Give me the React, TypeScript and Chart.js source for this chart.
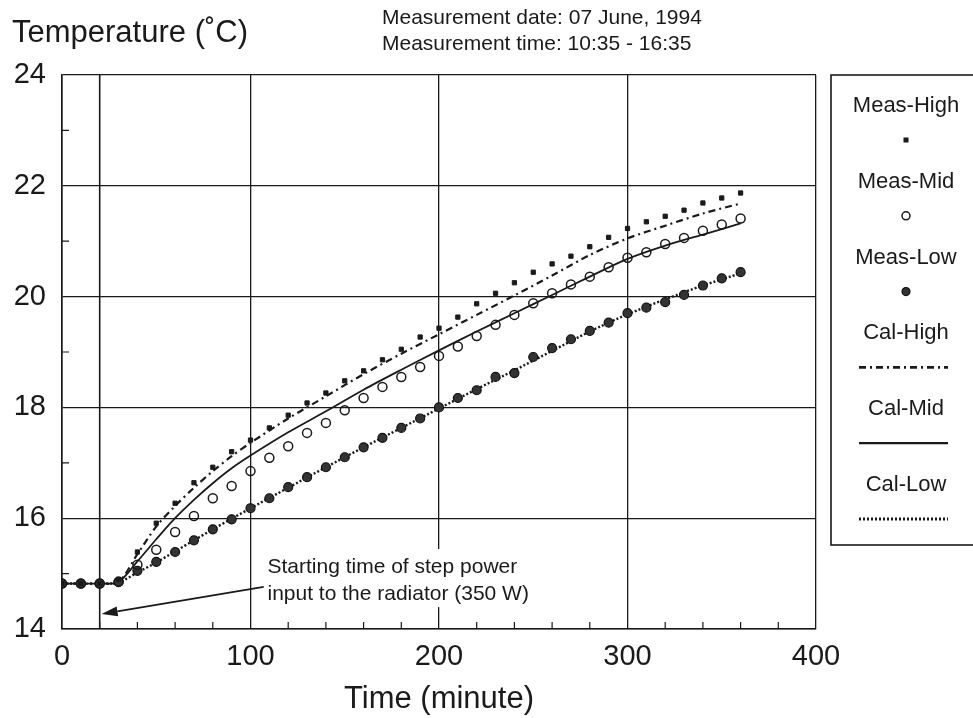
import { useEffect, useRef } from "react";
import { Chart, registerables } from "chart.js";

Chart.register(...registerables);

// ---------- data ----------
const measTimes = [0, 10, 20, 30, 40, 50, 60, 70, 80, 90, 100, 110, 120, 130, 140, 150, 160, 170, 180, 190, 200, 210, 220, 230, 240, 250, 260, 270, 280, 290, 300, 310, 320, 330, 340, 350, 360];
const measHigh = [14.82, 14.82, 14.82, 14.9, 15.39, 15.91, 16.27, 16.64, 16.92, 17.2, 17.41, 17.63, 17.86, 18.08, 18.26, 18.48, 18.66, 18.86, 19.05, 19.27, 19.43, 19.63, 19.87, 20.06, 20.25, 20.44, 20.59, 20.73, 20.9, 21.07, 21.23, 21.35, 21.45, 21.56, 21.69, 21.78, 21.87];
const measMid = [14.82, 14.82, 14.82, 14.85, 15.16, 15.43, 15.75, 16.04, 16.36, 16.58, 16.85, 17.09, 17.3, 17.54, 17.72, 17.95, 18.17, 18.37, 18.55, 18.73, 18.93, 19.1, 19.29, 19.49, 19.67, 19.88, 20.06, 20.22, 20.36, 20.53, 20.7, 20.8, 20.95, 21.06, 21.19, 21.3, 21.41];
const measLow = [14.82, 14.82, 14.82, 14.85, 15.05, 15.21, 15.39, 15.6, 15.8, 15.98, 16.18, 16.36, 16.56, 16.74, 16.92, 17.1, 17.28, 17.45, 17.63, 17.8, 18.0, 18.17, 18.31, 18.55, 18.62, 18.91, 19.07, 19.23, 19.38, 19.53, 19.7, 19.8, 19.9, 20.03, 20.2, 20.33, 20.44];

const calTimes = [0, 10, 20, 30, 40, 50, 60, 70, 80, 90, 100, 120, 140, 160, 180, 200, 220, 240, 260, 280, 300, 320, 340, 360];
const calHigh = [14.82, 14.82, 14.82, 14.85, 15.35, 15.85, 16.22, 16.55, 16.85, 17.12, 17.36, 17.8, 18.2, 18.6, 18.97, 19.32, 19.67, 20.02, 20.38, 20.75, 21.05, 21.28, 21.5, 21.68];
const calMid = [14.82, 14.82, 14.82, 14.85, 15.22, 15.62, 16.0, 16.33, 16.63, 16.9, 17.13, 17.55, 17.93, 18.32, 18.68, 19.03, 19.37, 19.7, 20.03, 20.36, 20.68, 20.92, 21.12, 21.32];
const calLow = [14.82, 14.82, 14.82, 14.84, 15.02, 15.2, 15.4, 15.6, 15.8, 15.99, 16.18, 16.55, 16.92, 17.28, 17.63, 17.98, 18.33, 18.67, 19.02, 19.37, 19.68, 19.95, 20.2, 20.42];

const seriesLabels = ["Meas-High", "Meas-Mid", "Meas-Low", "Cal-High", "Cal-Mid", "Cal-Low"];
const xTickValues = [0, 100, 200, 300, 400];
const yTickValues = [14, 16, 18, 20, 22, 24];
const stepTime = 20;

const yAxisTitle = "Temperature (˚C)";
const xAxisTitle = "Time (minute)";
const infoLines = ["Measurement date: 07 June, 1994", "Measurement time: 10:35 - 16:35"];
const noteLines = ["Starting time of step power", "input to the radiator (350 W)"];

// annotation anchors (data coordinates)
const noteAnchorX = 109;
const noteAnchorY = [15.12, 14.63];
const arrowFrom = { x: 107, y: 14.76 };
const arrowTo = { x: 21, y: 14.27 };

const FONT = "'Liberation Sans', Arial, Helvetica, sans-serif";
const INK = "#1a1a1a";

const pts = (xs: number[], ys: number[]) => xs.map((x, i) => ({ x, y: ys[i] }));

const decorPlugin = {
  id: "decor",
  beforeDatasetsDraw(chart: any) {
    const { ctx, chartArea: a, scales } = chart;
    const x = scales.x;
    const y = scales.y;
    ctx.save();
    ctx.strokeStyle = INK;
    // minor ticks
    ctx.lineWidth = 1.2;
    ctx.beginPath();
    for (let v = 20; v < 400; v += 20) {
      if (v % 100 === 0) continue;
      const px = x.getPixelForValue(v);
      ctx.moveTo(px, a.bottom);
      ctx.lineTo(px, a.bottom - 7);
    }
    for (let v = 15; v < 24; v += 2) {
      const py = y.getPixelForValue(v);
      ctx.moveTo(a.left, py);
      ctx.lineTo(a.left + 7, py);
    }
    ctx.stroke();

    // step line
    const sx = x.getPixelForValue(stepTime);
    ctx.lineWidth = 1.6;
    ctx.beginPath();
    ctx.moveTo(sx, a.top);
    ctx.lineTo(sx, a.bottom);
    ctx.stroke();

    // note with white box
    ctx.font = `21px ${FONT}`;
    const nx = x.getPixelForValue(noteAnchorX);
    const ny = noteAnchorY.map((v) => y.getPixelForValue(v));
    const w = Math.max(...noteLines.map((t) => ctx.measureText(t).width));
    ctx.fillStyle = "#fff";
    ctx.fillRect(nx - 6, ny[0] - 18, w + 10, ny[1] - ny[0] + 31);
    ctx.fillStyle = INK;
    ctx.textBaseline = "middle";
    ctx.textAlign = "left";
    noteLines.forEach((t, i) => ctx.fillText(t, nx, ny[i]));

    // arrow
    const x1 = x.getPixelForValue(arrowFrom.x);
    const y1 = y.getPixelForValue(arrowFrom.y);
    const x2 = x.getPixelForValue(arrowTo.x);
    const y2 = y.getPixelForValue(arrowTo.y);
    const ang = Math.atan2(y2 - y1, x2 - x1);
    const hl = 16;
    const hw = 5;
    const bx = x2 - hl * Math.cos(ang);
    const by = y2 - hl * Math.sin(ang);
    ctx.lineWidth = 1.6;
    ctx.beginPath();
    ctx.moveTo(x1, y1);
    ctx.lineTo(bx, by);
    ctx.stroke();
    ctx.beginPath();
    ctx.moveTo(x2, y2);
    ctx.lineTo(bx + hw * Math.sin(ang), by - hw * Math.cos(ang));
    ctx.lineTo(bx - hw * Math.sin(ang), by + hw * Math.cos(ang));
    ctx.closePath();
    ctx.fill();
    ctx.restore();
  },
  afterDraw(chart: any) {
    const { ctx, chartArea: a } = chart;
    ctx.save();
    ctx.fillStyle = INK;
    ctx.textBaseline = "middle";
    // axis title (top-left)
    ctx.font = `31px ${FONT}`;
    ctx.textAlign = "left";
    ctx.fillText(yAxisTitle, 12, 33);
    // info lines
    ctx.font = `21px ${FONT}`;
    infoLines.forEach((t, i) => ctx.fillText(t, 382, 18 + i * 26));

    // legend
    const lx = 831;
    const ly = a.top;
    const lb = 545;
    ctx.strokeStyle = INK;
    ctx.lineWidth = 1.6;
    ctx.strokeRect(lx, ly, 200, lb - ly);
    const cx = 906;
    ctx.font = `22px ${FONT}`;
    ctx.textAlign = "center";
    const ds = chart.data.datasets;
    ds.forEach((d: any, i: number) => {
      const ty = ly + 31 + i * 75.8;
      const sy = ty + 34;
      ctx.fillStyle = INK;
      ctx.fillText(d.label, cx, ty);
      if (d.showLine === false) {
        ctx.save();
        ctx.lineWidth = d.borderWidth;
        ctx.strokeStyle = d.borderColor;
        ctx.fillStyle = d.backgroundColor;
        if (d.pointStyle === "rect") {
          ctx.fillStyle = d.borderColor;
          ctx.fillRect(cx - 2.5, sy - 2.5, 5, 5);
        } else {
          ctx.beginPath();
          ctx.arc(cx, sy, d.pointRadius - 0.5, 0, Math.PI * 2);
          ctx.fill();
          ctx.stroke();
        }
        ctx.restore();
      } else {
        ctx.save();
        ctx.strokeStyle = d.borderColor;
        ctx.lineWidth = d.borderWidth + 0.4;
        ctx.setLineDash(d.borderDash || []);
        ctx.beginPath();
        ctx.moveTo(859, sy);
        ctx.lineTo(948, sy);
        ctx.stroke();
        ctx.restore();
      }
    });
    ctx.restore();
  },
};

export default function App() {
  const ref = useRef<HTMLCanvasElement | null>(null);

  useEffect(() => {
    if (!ref.current) return;
    const chart = new Chart(ref.current, {
      type: "scatter",
      data: {
        datasets: [
          {
            label: seriesLabels[0],
            data: pts(measTimes, measHigh),
            showLine: false,
            pointStyle: "rect",
            pointRadius: 3,
            borderWidth: 1,
            borderColor: INK,
            backgroundColor: INK,
            order: 1,
          },
          {
            label: seriesLabels[1],
            data: pts(measTimes, measMid),
            showLine: false,
            pointStyle: "circle",
            pointRadius: 4.5,
            borderWidth: 1.5,
            borderColor: INK,
            backgroundColor: "rgba(255,255,255,0)",
            order: 2,
          },
          {
            label: seriesLabels[2],
            data: pts(measTimes, measLow),
            showLine: false,
            pointStyle: "circle",
            pointRadius: 4.5,
            borderWidth: 1.2,
            borderColor: "#111",
            backgroundColor: "#333",
            order: 3,
          },
          {
            label: seriesLabels[3],
            data: pts(calTimes, calHigh),
            showLine: true,
            pointRadius: 0,
            borderWidth: 2.2,
            borderColor: INK,
            borderDash: [7, 4, 2, 4],
            backgroundColor: INK,
            tension: 0.3,
            order: 4,
          },
          {
            label: seriesLabels[4],
            data: pts(calTimes, calMid),
            showLine: true,
            pointRadius: 0,
            borderWidth: 1.8,
            borderColor: INK,
            backgroundColor: INK,
            tension: 0.3,
            order: 5,
          },
          {
            label: seriesLabels[5],
            data: pts(calTimes, calLow),
            showLine: true,
            pointRadius: 0,
            borderWidth: 2.4,
            borderColor: INK,
            borderDash: [2, 2],
            backgroundColor: INK,
            tension: 0.3,
            order: 6,
          },
        ],
      },
      options: {
        responsive: false,
        animation: false,
        devicePixelRatio: 1,
        layout: { padding: { left: 0, top: 75, right: 157, bottom: 0 } },
        plugins: { legend: { display: false }, tooltip: { enabled: false }, title: { display: false } },
        scales: {
          x: {
            type: "linear",
            min: 0,
            max: 400,
            afterBuildTicks: (s: any) => {
              s.ticks = xTickValues.map((v) => ({ value: v }));
            },
            afterFit: (s: any) => {
              s.height = 89;
            },
            grid: { color: INK, lineWidth: 1.3, drawTicks: false },
            border: { color: INK, width: 1.6 },
            ticks: { color: INK, padding: 11, font: { family: FONT, size: 29 }, maxRotation: 0 },
            title: {
              display: true,
              text: xAxisTitle,
              color: INK,
              font: { family: FONT, size: 31 },
              padding: { top: 0, bottom: 0 },
            },
          },
          y: {
            type: "linear",
            min: 14,
            max: 24,
            afterBuildTicks: (s: any) => {
              s.ticks = yTickValues.map((v) => ({ value: v }));
            },
            afterFit: (s: any) => {
              s.width = 62;
            },
            grid: { color: INK, lineWidth: 1.3, drawTicks: false },
            border: { color: INK, width: 1.6 },
            ticks: { color: INK, padding: 16, font: { family: FONT, size: 29 } },
          },
        },
      },
      plugins: [decorPlugin],
    } as any);
    return () => chart.destroy();
  }, []);

  return (
    <div style={{ position: "absolute", left: 0, top: 0, width: 973, height: 718, background: "#fff" }}>
      <canvas ref={ref} width={973} height={718} style={{ display: "block", width: 973, height: 718 }} />
    </div>
  );
}
